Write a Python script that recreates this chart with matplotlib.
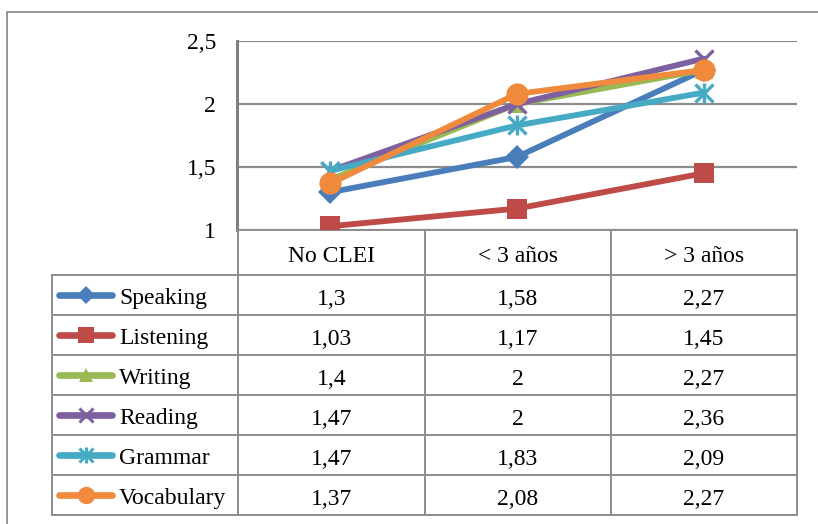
import matplotlib
matplotlib.use("Agg")
import matplotlib.pyplot as plt
from matplotlib.patches import Rectangle

categories = ["No CLEI", "< 3 años", "> 3 años"]
series_names = ["Speaking", "Listening", "Writing", "Reading", "Grammar", "Vocabulary"]
speaking = [1.3, 1.58, 2.27]
listening = [1.03, 1.17, 1.45]
writing = [1.4, 2.0, 2.27]
reading = [1.47, 2.0, 2.36]
grammar = [1.47, 1.83, 2.09]
vocabulary = [1.37, 2.08, 2.27]
y_ticks = [1, 1.5, 2, 2.5]

series = [speaking, listening, writing, reading, grammar, vocabulary]
colors = ["#4A7EBB", "#BE4B48", "#98B954", "#7D60A0", "#46AAC5", "#F08A3C"]
markers = ["D", "s", "^", "x", "x", "o"]
msizes = [12, 14, 13, 13, 13, 16]

plt.rcParams['font.family'] = ['Liberation Serif', 'DejaVu Serif']
FS = 17
GRID = "#8c8c8c"

W, H = 818, 524
fig = plt.figure(figsize=(W / 100, H / 100), dpi=100)

def frac(x0, y0, x1, y1):
    return [x0 / W, 1 - y1 / H, (x1 - x0) / W, (y1 - y0) / H]

# outer chart border
fig.patches.append(Rectangle((7 / W, -0.1), 1.2, 1 - 12 / H + 0.1, transform=fig.transFigure,
                             fill=False, edgecolor=GRID, linewidth=1.3))

# plot axes
ax = fig.add_axes(frac(237, 41, 797, 230))
x = list(range(len(categories)))
for name, vals, c, m, ms in zip(series_names, series, colors, markers, msizes):
    ax.plot(x, vals, color=c, linewidth=4.2, marker=m, markersize=ms,
            markeredgewidth=2.4 if m == "x" else 0, markerfacecolor=c, markeredgecolor=c,
            solid_capstyle="round", zorder=3)
    if name == "Grammar":
        ax.plot(x, vals, linestyle="none", marker="|", markersize=15, markeredgewidth=2.4,
                color=c, zorder=3)
ax.set_xlim(-0.5, 2.5)
ax.set_ylim(1, 2.5)
ax.set_yticks(y_ticks)
ax.set_yticklabels([f"{v:g}".replace(".", ",") for v in y_ticks], fontsize=FS)
ax.tick_params(axis="y", length=0, pad=15)
ax.set_xticks([])
for yv in y_ticks:
    ax.axhline(yv, color=GRID, linewidth=1.6, zorder=1)
for s in ["top", "right", "bottom"]:
    ax.spines[s].set_visible(False)
ax.spines["left"].set_color("#808080")
ax.spines["left"].set_linewidth(2.2)
ax.patch.set_alpha(0)

# data table
tx = fig.add_axes(frac(52, 230, 797, 515))
tx.set_xlim(-1.5, 2.5)
tx.set_ylim(285, 0)
tx.axis("off")
header_h = 45
row_h = 40
lc = GRID
lw = 1.4
tx.plot([-0.5, 2.5], [0, 0], color=lc, lw=lw)
tx.plot([-0.5, -0.5], [0, header_h + row_h * 6], color=lc, lw=lw, clip_on=False)
for i, cat in enumerate(categories):
    tx.text(i, header_h / 2 + 1, cat, ha="center", va="center_baseline", fontsize=FS)
    tx.plot([i + 0.5, i + 0.5], [0, header_h + row_h * 6], color=lc, lw=lw, clip_on=False)
tx.plot([-1.5, -1.5], [header_h, header_h + row_h * 6], color=lc, lw=lw, clip_on=False)
for r in range(7):
    yy = header_h + r * row_h
    tx.plot([-1.5, 2.5], [yy, yy], color=lc, lw=lw, clip_on=False)
for r, (name, vals, c, m, ms) in enumerate(zip(series_names, series, colors, markers, msizes)):
    yc = header_h + r * row_h + row_h / 2
    tx.plot([-1.46, -1.18], [yc, yc], color=c, lw=4.8, solid_capstyle="round")
    tx.plot([-1.32], [yc], marker=m, markersize=ms * 0.78, color=c,
            markeredgewidth=2.2 if m == "x" else 0)
    if name == "Grammar":
        tx.plot([-1.32], [yc], marker="|", markersize=11, markeredgewidth=2.2, color=c)
    tx.text(-1.14, yc + 1, name, ha="left", va="center_baseline", fontsize=FS)
    for i, v in enumerate(vals):
        tx.text(i, yc + 2, f"{v:g}".replace(".", ","), ha="center", va="center_baseline", fontsize=FS)

fig.savefig("out.png", dpi=100)
